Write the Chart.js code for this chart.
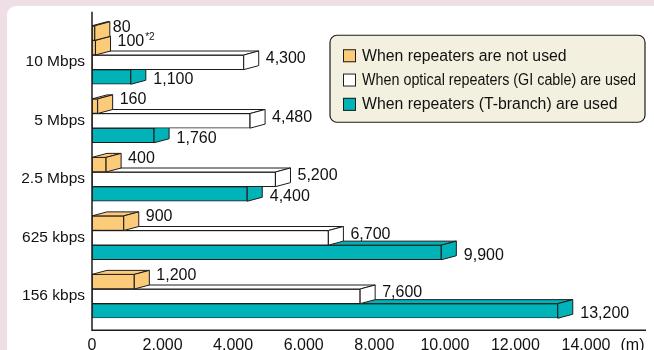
<!DOCTYPE html>
<html>
<head>
<meta charset="utf-8">
<script src="https://cdn.jsdelivr.net/npm/chart.js@4.4.1/dist/chart.umd.min.js"></script>
<style>
  body { margin: 0; background: #eedfe6; }
  #wrap { position: relative; width: 654px; height: 350px; overflow: hidden; }
  #panel { position: absolute; left: 7px; top: 6px; width: 680px; height: 380px; background: #fff; border-radius: 9px; }
  canvas { position: absolute; left: 0; top: 0; }
</style>
</head>
<body>
<div id="wrap">
  <div id="panel"></div>
  <canvas id="distanceChart" width="654" height="350"></canvas>
</div>
<script>
// Transmission distance by speed
const speeds = ["10 Mbps", "5 Mbps", "2.5 Mbps", "625 kbps", "156 kbps"];
const noRepeaterExtra = [80, null, null, null, null];
const noRepeater = [100, 160, 400, 900, 1200];
const noRepeaterNotes = ["*2", "", "", "", ""];
const opticalRepeater = [4300, 4480, 5200, 6700, 7600];
const tBranchRepeater = [1100, 1760, 4400, 9900, 13200];
const xTicks = [0, 2000, 4000, 6000, 8000, 10000, 12000, 14000];
const unitLabel = "(m)";

const FONT = "'Liberation Sans', Arial, Helvetica, sans-serif";
const INK = "#1f1b1c";
const DEPTH_X = 15;
const DEPTH_Y = 4;

// label nudges per dataset (style only)
const labelNudge = [
  { dx: 3, dy: -5 },
  { dx: 7, dy: -6.5 },
  { dx: 7, dy: -3.5 },
  { dx: 7.5, dy: 3 },
];

// 3D top and side faces for each bar
const boxPlugin = {
  id: "box3d",
  afterDatasetDraw(chart, args) {
    const ctx = chart.ctx;
    const ds = chart.data.datasets[args.index];
    args.meta.data.forEach((bar, i) => {
      if (ds.data[i] === null) return;
      const top = bar.y - bar.height / 2;
      const bottom = bar.y + bar.height / 2;
      ctx.save();
      ctx.fillStyle = ds.backgroundColor;
      ctx.strokeStyle = INK;
      ctx.lineWidth = 1;
      ctx.lineJoin = "round";
      ctx.beginPath();
      ctx.moveTo(bar.base, top);
      ctx.lineTo(bar.base + DEPTH_X, top - DEPTH_Y);
      ctx.lineTo(bar.x + DEPTH_X, top - DEPTH_Y);
      ctx.lineTo(bar.x, top);
      ctx.closePath();
      ctx.fill();
      ctx.stroke();
      ctx.beginPath();
      ctx.moveTo(bar.x, top);
      ctx.lineTo(bar.x + DEPTH_X, top - DEPTH_Y);
      ctx.lineTo(bar.x + DEPTH_X, bottom - DEPTH_Y);
      ctx.lineTo(bar.x, bottom);
      ctx.closePath();
      ctx.fill();
      ctx.stroke();
      ctx.restore();
    });
  },
};

// value labels, axes lines, unit and legend box
const decorPlugin = {
  id: "decor",
  afterDatasetsDraw(chart) {
    const ctx = chart.ctx;
    const a = chart.chartArea;
    ctx.save();
    ctx.textBaseline = "middle";
    ctx.textAlign = "left";
    ctx.fillStyle = "#111";
    chart.data.datasets.forEach((ds, di) => {
      const meta = chart.getDatasetMeta(di);
      meta.data.forEach((bar, i) => {
        const v = ds.data[i];
        if (v === null) return;
        const x = bar.x + DEPTH_X + labelNudge[di].dx;
        const y = bar.y + labelNudge[di].dy;
        const txt = v.toLocaleString("en-US");
        ctx.font = "16px " + FONT;
        ctx.fillText(txt, x, y);
        const note = ds.notes ? ds.notes[i] : "";
        if (note) {
          const w = ctx.measureText(txt).width;
          ctx.font = "10px " + FONT;
          ctx.fillText(note, x + w + 1, y - 4);
        }
      });
    });

    // axis lines
    const axisY = a.bottom + 12;
    ctx.strokeStyle = INK;
    ctx.lineWidth = 1.5;
    ctx.beginPath();
    ctx.moveTo(a.left, a.top - 14);
    ctx.lineTo(a.left, axisY);
    ctx.lineTo(a.right + 60, axisY);
    ctx.stroke();

    // unit label
    ctx.font = "16px " + FONT;
    ctx.textAlign = "center";
    ctx.fillText(unitLabel, a.right + 46.5, a.bottom + 27);

    // legend
    const bx = a.right - 256, by = a.top + 9.5, bw = 315, bh = 87;
    ctx.beginPath();
    ctx.roundRect(bx, by, bw, bh, 7);
    ctx.fillStyle = "#f3f0df";
    ctx.fill();
    ctx.lineWidth = 1.2;
    ctx.stroke();
    const items = chart.data.datasets.filter(ds => ds.inLegend);
    ctx.textAlign = "left";
    ctx.font = "15.8px " + FONT;
    items.forEach((ds, k) => {
      const cy = by + 20.5 + k * 24.3;
      ctx.fillStyle = ds.backgroundColor;
      ctx.fillRect(bx + 13, cy - 6.5, 13, 13);
      ctx.lineWidth = 1;
      ctx.strokeStyle = INK;
      ctx.strokeRect(bx + 13.5, cy - 6, 12, 12);
      ctx.fillStyle = "#111";
      ctx.fillText(ds.label, bx + 32, cy + 0.5, 274);
    });
    ctx.restore();
  },
};

const ctx = document.getElementById("distanceChart").getContext("2d");
const distanceChart = new Chart(ctx, {
  type: "bar",
  data: {
    labels: speeds,
    datasets: [
      {
        label: "When repeaters are not used",
        data: noRepeaterExtra,
        backgroundColor: "#fccb7a",
        borderColor: INK,
        inLegend: false,
      },
      {
        label: "When repeaters are not used",
        data: noRepeater,
        notes: noRepeaterNotes,
        backgroundColor: "#fccb7a",
        borderColor: INK,
        inLegend: true,
      },
      {
        label: "When optical repeaters (GI cable) are used",
        data: opticalRepeater,
        backgroundColor: "#ffffff",
        borderColor: INK,
        inLegend: true,
      },
      {
        label: "When repeaters (T-branch) are used",
        data: tBranchRepeater,
        backgroundColor: "#00b3b8",
        borderColor: INK,
        inLegend: true,
      },
    ],
  },
  options: {
    indexAxis: "y",
    responsive: false,
    animation: false,
    layout: { padding: { top: 25.75, right: 68, bottom: 0, left: 0 } },
    datasets: {
      bar: {
        categoryPercentage: 1,
        barPercentage: 1,
        borderWidth: 1,
        borderSkipped: false,
      },
    },
    plugins: {
      legend: { display: false },
      tooltip: { enabled: false },
    },
    scales: {
      y: {
        grid: { display: false, drawTicks: false },
        border: { display: false },
        ticks: {
          color: "#111",
          font: { family: FONT, size: 15.5 },
          padding: 7,
          labelOffset: 7,
        },
        afterFit(scale) {
          scale.width = 92;
        },
      },
      x: {
        min: 0,
        max: 14000,
        grid: { display: false, drawTicks: false },
        border: { display: false },
        afterBuildTicks(scale) {
          scale.ticks = xTicks.map(v => ({ value: v }));
        },
        ticks: {
          color: "#111",
          font: { family: FONT, size: 16 },
          padding: 18,
          maxRotation: 0,
          autoSkip: false,
          callback: v => v.toLocaleString("en-US"),
        },
        afterFit(scale) {
          scale.height = 31.75;
        },
      },
    },
  },
  plugins: [boxPlugin, decorPlugin],
});
</script>
</body>
</html>
